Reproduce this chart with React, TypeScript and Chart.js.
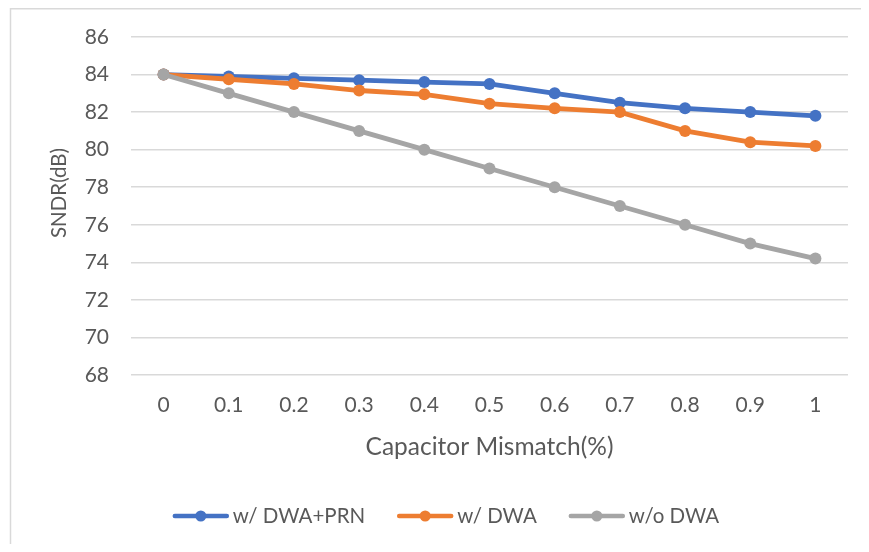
import React, { useEffect, useRef } from "react";
import { Chart, registerables } from "chart.js";

Chart.register(...registerables);

const categories = ["0", "0.1", "0.2", "0.3", "0.4", "0.5", "0.6", "0.7", "0.8", "0.9", "1"];
const seriesNames = ["w/ DWA+PRN", "w/ DWA", "w/o DWA"];
const dwaPrn = [84, 83.9, 83.8, 83.7, 83.6, 83.5, 83.0, 82.5, 82.2, 82.0, 81.8];
const dwa = [84, 83.75, 83.5, 83.15, 82.95, 82.45, 82.2, 82.0, 81.0, 80.4, 80.2];
const noDwa = [84, 83, 82, 81, 80, 79, 78, 77, 76, 75, 74.2];
const colors = ["#4472C4", "#ED7D31", "#A5A5A5"];
const yMin = 68;
const yMax = 86;
const yStep = 2;
const xTitle = "Capacitor Mismatch(%)";
const yTitle = "SNDR(dB)";

const FONT = "Lato, 'Open Sans', 'Noto Sans', sans-serif";
const TEXT = "#595959";
const GRID = "#D9D9D9";

const W = 853;
const H = 536;

const frameAndLegend = {
  id: "frameAndLegend",
  afterDraw(chart: any) {
    const ctx = chart.ctx;
    ctx.save();
    // frame (top and left edges visible)
    ctx.strokeStyle = GRID;
    ctx.lineWidth = 1.5;
    ctx.beginPath();
    ctx.moveTo(2.5, H);
    ctx.lineTo(2.5, 0.75);
    ctx.lineTo(W, 0.75);
    ctx.stroke();
    // y axis title
    ctx.save();
    ctx.translate(51, 185);
    ctx.rotate(-Math.PI / 2);
    ctx.font = `20.5px ${FONT}`;
    ctx.fillStyle = TEXT;
    ctx.textAlign = "center";
    ctx.textBaseline = "middle";
    ctx.fillText(yTitle, 0, 0);
    ctx.restore();
    // legend
    ctx.font = `20.5px ${FONT}`;
    ctx.textBaseline = "middle";
    const lineLen = 56;
    const gapText = 4;
    const gapItem = 32;
    const widths = seriesNames.map((n) => ctx.measureText(n).width);
    const total = widths.reduce((a, w) => a + lineLen + gapText + w, 0) + gapItem * (seriesNames.length - 1);
    let x = 438 - total / 2;
    const y = 508;
    seriesNames.forEach((name, i) => {
      ctx.strokeStyle = colors[i];
      ctx.lineWidth = 4.5;
      ctx.lineCap = "round";
      ctx.beginPath();
      ctx.moveTo(x + 2, y);
      ctx.lineTo(x + lineLen - 2, y);
      ctx.stroke();
      ctx.fillStyle = colors[i];
      ctx.beginPath();
      ctx.arc(x + lineLen / 2, y, 5.5, 0, Math.PI * 2);
      ctx.fill();
      ctx.fillStyle = TEXT;
      ctx.textAlign = "left";
      ctx.fillText(name, x + lineLen + gapText, y);
      x += lineLen + gapText + widths[i] + gapItem;
    });
    ctx.restore();
  },
};

export default function App() {
  const ref = useRef<HTMLCanvasElement>(null);
  useEffect(() => {
    if (!ref.current) return;
    const series = [dwaPrn, dwa, noDwa];
    const orders = [2, 1, 0];
    const chart = new Chart(ref.current, {
      type: "line",
      data: {
        labels: categories,
        datasets: series.map((d, i) => ({
          label: seriesNames[i],
          data: d,
          borderColor: colors[i],
          backgroundColor: colors[i],
          pointBackgroundColor: colors[i],
          pointBorderColor: colors[i],
          pointRadius: 6,
          pointBorderWidth: 0,
          borderWidth: 4.8,
          tension: 0,
          order: orders[i],
        })),
      },
      options: {
        responsive: false,
        animation: false,
        layout: { padding: { left: 0, right: 13, top: 29, bottom: 0 } },
        plugins: {
          legend: { display: false },
          tooltip: { enabled: false },
        },
        scales: {
          x: {
            offset: true,
            grid: { display: false, drawTicks: false },
            border: { display: false },
            ticks: { color: TEXT, font: { family: FONT, size: 21 }, padding: 18, maxRotation: 0 },
            title: {
              display: true,
              text: xTitle,
              color: TEXT,
              font: { family: FONT, size: 24.5 },
              padding: { top: 0, bottom: 82 },
            },
            afterFit: (s: any) => {
              s.height = 169;
              s.paddingLeft = 0;
              s.paddingRight = 0;
            },
          },
          y: {
            min: yMin,
            max: yMax,
            ticks: { stepSize: yStep, color: TEXT, font: { family: FONT, size: 21 }, padding: 22 },
            grid: { color: GRID, lineWidth: 1.5, drawTicks: false },
            border: { display: false },
            afterFit: (s: any) => {
              s.width = 123;
              s.paddingTop = 0;
              s.paddingBottom = 0;
            },
          },
        },
      },
      plugins: [frameAndLegend],
    });
    return () => chart.destroy();
  }, []);
  return <canvas ref={ref} width={W} height={H} style={{ display: "block" }} />;
}
